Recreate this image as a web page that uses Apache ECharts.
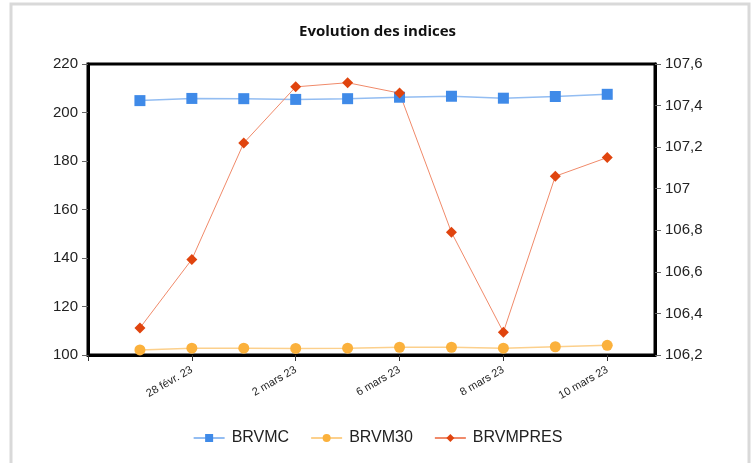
<!DOCTYPE html>
<html>
<head>
<meta charset="utf-8">
<script src="https://cdn.jsdelivr.net/npm/echarts@6/dist/echarts.min.js"></script>
<style>
  html, body { margin: 0; padding: 0; background: #fff; }
  #chart { width: 755px; height: 463px; }
</style>
</head>
<body>
<div id="chart"></div>
<script>
// trading days, one label every two points
var categories = ['27 févr. 23', '28 févr. 23', '1 mars 23', '2 mars 23', '3 mars 23',
  '6 mars 23', '7 mars 23', '8 mars 23', '9 mars 23', '10 mars 23']
var brvmc = [204.9, 205.8, 205.7, 205.4, 205.7, 206.3, 206.7, 205.9, 206.6, 207.5]
var brvm30 = [102.1, 102.8, 102.8, 102.7, 102.8, 103.2, 103.2, 102.8, 103.4, 104.0]
var brvmpres = [106.33, 106.66, 107.22, 107.49, 107.51, 107.46, 106.79, 106.31, 107.06, 107.15]
var leftTicks = [100, 220, 20]
var rightTicks = [106.2, 107.6, 0.2]

function pairs(arr) {
  return arr.map(function(v, i) { return [i, v] })
}

var chart = echarts.init(document.getElementById('chart'))

chart.setOption({
  animation: false,
  title: {
    text: 'Evolution des indices',
    left: 'center',
    top: 19,
    textStyle: { fontFamily: 'Open Sans', fontSize: 15, fontWeight: 'bold', color: '#111' }
  },
  graphic: [{
    type: 'rect',
    shape: { x: 11, y: 4, width: 738, height: 480 },
    style: { fill: 'none', stroke: '#d9d9d9', lineWidth: 3 },
    silent: true
  }],
  legend: {
    bottom: 12,
    left: 'center',
    itemGap: 21,
    itemWidth: 31,
    itemHeight: 10,
    textStyle: { fontFamily: 'Liberation Sans', fontSize: 16, color: '#222', padding: [0, 0, 0, 2] },
    data: ['BRVMC', 'BRVM30', 'BRVMPRES']
  },
  grid: {
    left: 88,
    right: 100,
    top: 64,
    bottom: 108,
    show: true,
    borderColor: '#000',
    borderWidth: 3
  },
  xAxis: {
    type: 'value',
    min: -1,
    max: 9.92,
    interval: 2,
    splitLine: { show: false },
    axisLine: { show: true, onZero: false, lineStyle: { color: '#000', width: 3 } },
    axisTick: { show: true, length: 6, lineStyle: { color: '#333' } },
    axisLabel: {
      rotate: 30,
      fontFamily: 'Liberation Sans',
      fontSize: 11,
      color: '#222',
      margin: 14,
      showMaxLabel: false,
      formatter: function(v) { return categories[v] || '' }
    }
  },
  yAxis: [{
    type: 'value',
    min: leftTicks[0],
    max: leftTicks[1],
    interval: leftTicks[2],
    splitLine: { show: false },
    axisLine: { show: true, onZero: false, lineStyle: { color: '#000', width: 3 } },
    axisTick: { show: true, length: 6, lineStyle: { color: '#666' } },
    axisLabel: { fontFamily: 'Liberation Sans', fontSize: 15, color: '#222', margin: 10 }
  }, {
    type: 'value',
    min: rightTicks[0],
    max: rightTicks[1],
    interval: rightTicks[2],
    splitLine: { show: false },
    axisLine: { show: true, onZero: false, lineStyle: { color: '#000', width: 3 } },
    axisTick: { show: true, length: 6, lineStyle: { color: '#666' } },
    axisLabel: {
      fontFamily: 'Liberation Sans',
      fontSize: 15,
      color: '#222',
      margin: 10,
      formatter: function(v) { return String(+v.toFixed(1)).replace('.', ',') }
    }
  }],
  series: [{
    name: 'BRVMC',
    type: 'line',
    yAxisIndex: 0,
    data: pairs(brvmc),
    symbol: 'rect',
    symbolSize: 11,
    itemStyle: { color: '#3f8ae8' },
    lineStyle: { color: '#93bdf2', width: 1.5 }
  }, {
    name: 'BRVM30',
    type: 'line',
    yAxisIndex: 0,
    data: pairs(brvm30),
    symbol: 'circle',
    symbolSize: 11,
    itemStyle: { color: '#fbb13c' },
    lineStyle: { color: '#fcd08c', width: 1.5 }
  }, {
    name: 'BRVMPRES',
    type: 'line',
    yAxisIndex: 1,
    data: pairs(brvmpres),
    symbol: 'diamond',
    symbolSize: 11,
    itemStyle: { color: '#e0440e' },
    lineStyle: { color: '#f08a6a', width: 1 }
  }]
})
</script>
</body>
</html>
